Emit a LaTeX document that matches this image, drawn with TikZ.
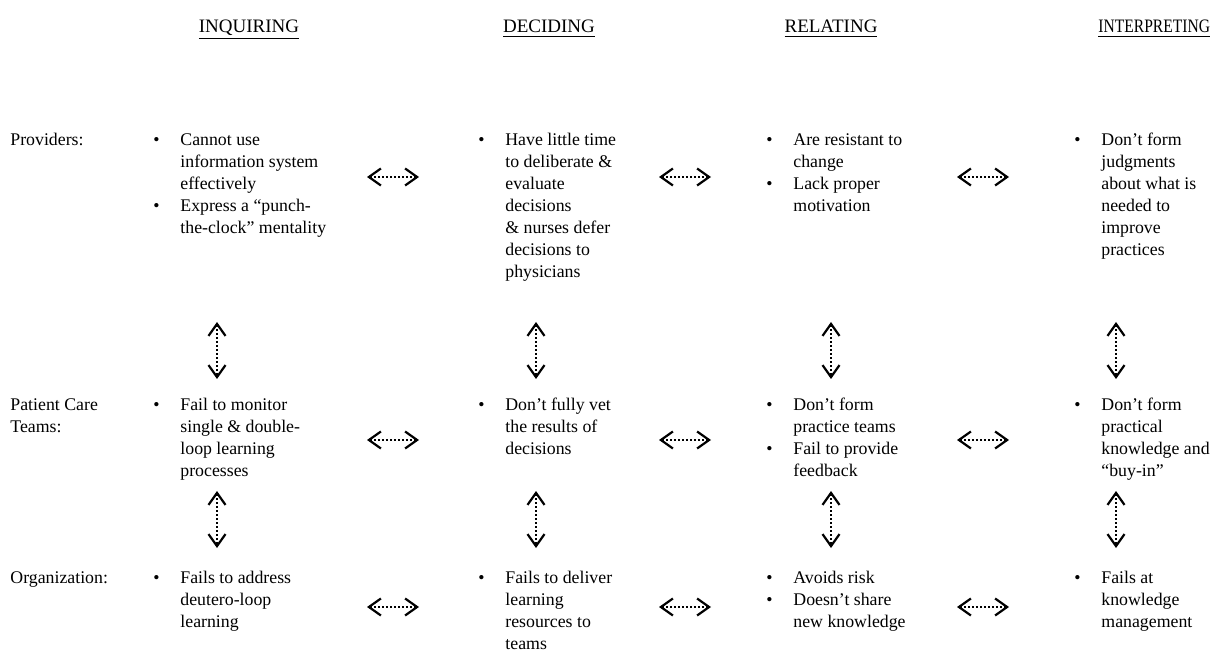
\documentclass[tikz,border=0pt]{standalone}
\usepackage{fontspec}
\setmainfont{Liberation Serif}
\usepackage{tikz}
\usetikzlibrary{arrows.meta,positioning}
\newcommand{\cellfont}{\fontsize{8.9}{11}\selectfont}
\newcommand{\headfont}{\fontsize{9.5}{11}\selectfont}

\begin{document}
\begin{tikzpicture}[x=0.5pt, y=-0.5pt,
  head/.style={anchor=base, inner sep=0pt, font=\headfont},
  rowlabel/.style={anchor=base west, inner sep=0pt, font=\cellfont},
  cell/.style={anchor=base west, inner sep=0pt, font=\cellfont},
  link/.style={line width=1.1pt, dash pattern=on 1pt off 1pt,
    {Straight Barb[length=6pt,width=8.5pt,line width=1.1pt]}-{Straight Barb[length=6pt,width=8.5pt,line width=1.1pt]}}
]
  \useasboundingbox (0,0) rectangle (1213,656);

  % column heads
  \node[head] (inq) at (249,33) {\underline{INQUIRING}};
  \node[head] (dec) at (549,33) {\underline{DECIDING}};
  \node[head] (rel) at (831,33) {\underline{RELATING}};
  \node[head, anchor=base west] (int) at (1098,33) {\underline{\scalebox{0.82}[1]{INTERPRETING}}};

  % row labels
  \node[rowlabel] (prov) at (10,146) {Providers:};
  \node[rowlabel] (team) at (10,411) {\begin{tabular}[t]{@{}l@{}}Patient Care\\Teams:\end{tabular}};
  \node[rowlabel] (org) at (10,583) {Organization:};

  % providers
  \node[cell] (prov-inq) at (153,146) {\begin{tabular}[t]{@{}p{13.5pt}@{}l@{}}
    \textbullet & Cannot use\\ & information system\\ & effectively\\
    \textbullet & Express a ``punch-\\ & the-clock'' mentality\end{tabular}};
  \node[cell] (prov-dec) at (478,146) {\begin{tabular}[t]{@{}p{13.5pt}@{}l@{}}
    \textbullet & Have little time\\ & to deliberate \&\\ & evaluate\\ & decisions\\
    & \& nurses defer\\ & decisions to\\ & physicians\end{tabular}};
  \node[cell] (prov-rel) at (766,146) {\begin{tabular}[t]{@{}p{13.5pt}@{}l@{}}
    \textbullet & Are resistant to\\ & change\\
    \textbullet & Lack proper\\ & motivation\end{tabular}};
  \node[cell] (prov-int) at (1074,146) {\begin{tabular}[t]{@{}p{13.5pt}@{}l@{}}
    \textbullet & Don't form\\ & judgments\\ & about what is\\ & needed to\\
    & improve\\ & practices\end{tabular}};

  % patient care teams
  \node[cell] (team-inq) at (153,411) {\begin{tabular}[t]{@{}p{13.5pt}@{}l@{}}
    \textbullet & Fail to monitor\\ & single \& double-\\ & loop learning\\ & processes\end{tabular}};
  \node[cell] (team-dec) at (478,411) {\begin{tabular}[t]{@{}p{13.5pt}@{}l@{}}
    \textbullet & Don't fully vet\\ & the results of\\ & decisions\end{tabular}};
  \node[cell] (team-rel) at (766,411) {\begin{tabular}[t]{@{}p{13.5pt}@{}l@{}}
    \textbullet & Don't form\\ & practice teams\\
    \textbullet & Fail to provide\\ & feedback\end{tabular}};
  \node[cell] (team-int) at (1074,411) {\begin{tabular}[t]{@{}p{13.5pt}@{}l@{}}
    \textbullet & Don't form\\ & practical\\ & knowledge and\\ & ``buy-in''\end{tabular}};

  % organization
  \node[cell] (org-inq) at (153,583) {\begin{tabular}[t]{@{}p{13.5pt}@{}l@{}}
    \textbullet & Fails to address\\ & deutero-loop\\ & learning\end{tabular}};
  \node[cell] (org-dec) at (478,583) {\begin{tabular}[t]{@{}p{13.5pt}@{}l@{}}
    \textbullet & Fails to deliver\\ & learning\\ & resources to\\ & teams\end{tabular}};
  \node[cell] (org-rel) at (766,583) {\begin{tabular}[t]{@{}p{13.5pt}@{}l@{}}
    \textbullet & Avoids risk\\
    \textbullet & Doesn't share\\ & new knowledge\end{tabular}};
  \node[cell] (org-int) at (1074,583) {\begin{tabular}[t]{@{}p{13.5pt}@{}l@{}}
    \textbullet & Fails at\\ & knowledge\\ & management\end{tabular}};

  % arrows between columns
  \foreach \r/\y in {1/177,2/440,3/607} {
    \foreach \c/\xa/\xb in {1/367/419,2/659/711,3/957/1009} {
      \coordinate (h\r\c a) at (\xa,\y);
      \coordinate (h\r\c b) at (\xb,\y);
      \draw[link] (h\r\c a) -- (h\r\c b);
    }
  }
  % arrows between rows
  \foreach \c/\x in {1/217,2/536,3/831,4/1116} {
    \coordinate (v1\c a) at (\x,322);
    \coordinate (v1\c b) at (\x,379);
    \draw[link] (v1\c a) -- (v1\c b);
    \coordinate (v2\c a) at (\x,491);
    \coordinate (v2\c b) at (\x,548);
    \draw[link] (v2\c a) -- (v2\c b);
  }
\end{tikzpicture}
\end{document}
